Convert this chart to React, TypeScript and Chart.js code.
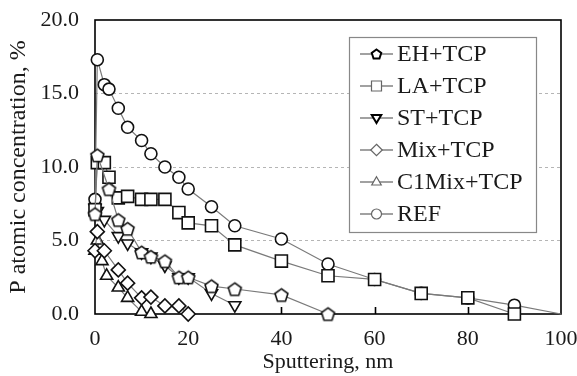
import React, { useEffect, useRef } from 'react';
import { Chart, registerables } from 'chart.js';

Chart.register(...registerables);

// ---- data ----
const seriesNames = ['EH+TCP', 'LA+TCP', 'ST+TCP', 'Mix+TCP', 'C1Mix+TCP', 'REF'];

const ehX = [0, 0.5, 3, 5, 7, 10, 12, 15, 18, 20, 25, 30, 40, 50];
const ehY = [6.8, 10.8, 8.5, 6.4, 5.8, 4.2, 3.9, 3.6, 2.5, 2.5, 1.9, 1.7, 1.3, 0];

const laX = [0, 0.5, 2, 3, 5, 7, 10, 12, 15, 18, 20, 25, 30, 40, 50, 60, 70, 80, 90];
const laY = [7.1, 10.3, 10.3, 9.3, 7.9, 8.0, 7.8, 7.8, 7.8, 6.9, 6.2, 6.0, 4.7, 3.6, 2.6, 2.35, 1.4, 1.1, 0];

const stX = [0, 0.5, 2, 5, 7, 10, 12, 15, 18, 20, 25, 30];
const stY = [7.2, 7.0, 6.4, 5.3, 4.8, 4.2, 3.9, 3.3, 2.5, 2.5, 1.4, 0.6];

const mixX = [0, 0.5, 2, 5, 7, 10, 12, 15, 18, 20];
const mixY = [4.3, 5.6, 4.3, 3.0, 2.1, 1.1, 1.15, 0.55, 0.55, 0];

const c1X = [0, 0.5, 1.5, 2.5, 5, 7, 10, 12];
const c1Y = [4.3, 5.0, 3.6, 2.6, 1.8, 1.1, 0.15, 0];

const refX = [0, 0.5, 2, 3, 5, 7, 10, 12, 15, 18, 20, 25, 30, 40, 50, 60, 70, 80, 90, 100];
const refY = [7.8, 17.3, 15.6, 15.3, 14.0, 12.7, 11.8, 10.9, 10.0, 9.3, 8.5, 7.3, 6.0, 5.1, 3.4, 2.35, 1.4, 1.1, 0.6, 0];

const xTickValues = [0, 20, 40, 60, 80, 100];
const yTickValues = [0, 5, 10, 15, 20];

const xTitle = 'Sputtering, nm';
const yTitle = 'P atomic concentration, %';

// ---- styling helpers ----
const FONT = "'Liberation Serif', 'Times New Roman', serif";
const FONT_SIZE = 22;
const BIG_FONT_SIZE = 24;
const LINE_COLOR = '#7a7a7a';
const MARK_COLOR = '#111111';

function pentagonPath(ctx: CanvasRenderingContext2D, cx: number, cy: number, r: number) {
  ctx.beginPath();
  for (let i = 0; i < 5; i++) {
    const a = -Math.PI / 2 + (i * 2 * Math.PI) / 5;
    const px = cx + r * Math.cos(a);
    const py = cy + r * Math.sin(a) + r * 0.1;
    if (i === 0) ctx.moveTo(px, py);
    else ctx.lineTo(px, py);
  }
  ctx.closePath();
}

function makePentagon(r: number, lw: number, color: string) {
  const size = Math.ceil(2 * r + lw * 2 + 4);
  const c = document.createElement('canvas');
  c.width = size;
  c.height = size;
  const ctx = c.getContext('2d')!;
  pentagonPath(ctx, size / 2, size / 2, r);
  ctx.fillStyle = '#ffffff';
  ctx.fill();
  ctx.lineWidth = lw;
  ctx.strokeStyle = color;
  ctx.stroke();
  return c;
}

function legendMarker(ctx: CanvasRenderingContext2D, kind: string, x: number, y: number, r: number) {
  ctx.beginPath();
  if (kind === 'circle') {
    ctx.arc(x, y, r, 0, Math.PI * 2);
  } else if (kind === 'rect') {
    ctx.rect(x - r, y - r, 2 * r, 2 * r);
  } else if (kind === 'tri') {
    ctx.moveTo(x, y - r * 1.05);
    ctx.lineTo(x + r * 0.95, y + r * 0.6);
    ctx.lineTo(x - r * 0.95, y + r * 0.6);
    ctx.closePath();
  } else if (kind === 'triDown') {
    ctx.moveTo(x, y + r * 1.0);
    ctx.lineTo(x + r * 0.95, y - r * 0.6);
    ctx.lineTo(x - r * 0.95, y - r * 0.6);
    ctx.closePath();
  } else if (kind === 'diamond') {
    ctx.moveTo(x, y - r * 1.15);
    ctx.lineTo(x + r * 1.15, y);
    ctx.lineTo(x, y + r * 1.15);
    ctx.lineTo(x - r * 1.15, y);
    ctx.closePath();
  } else if (kind === 'pentagon') {
    pentagonPath(ctx, x, y, r);
  }
  ctx.fillStyle = '#fff';
  ctx.fill();
  ctx.stroke();
}

const legendKinds = ['pentagon', 'rect', 'triDown', 'diamond', 'tri', 'circle'];
const legendBold = [true, false, true, false, false, false];

const framePlugin = {
  id: 'frameAndLegend',
  beforeDatasetsDraw(chart: any) {
    const { ctx, chartArea: a, scales } = chart;
    ctx.save();
    ctx.strokeStyle = '#000';
    ctx.lineWidth = 1.6;
    ctx.beginPath();
    for (const v of xTickValues) {
      if (v === 0 || v === 100) continue;
      const px = Math.round(scales.x.getPixelForValue(v)) + 0.5;
      ctx.moveTo(px, a.bottom);
      ctx.lineTo(px, a.bottom - 7);
    }
    ctx.stroke();
    ctx.strokeRect(a.left, a.top, a.right - a.left, a.bottom - a.top);
    ctx.restore();
  },
  afterDraw(chart: any) {
    const { ctx } = chart;
    const bx = 349, by = 37, bw = 187, bh = 195;
    ctx.save();
    ctx.fillStyle = '#ffffff';
    ctx.fillRect(bx, by, bw, bh);
    ctx.strokeStyle = '#888888';
    ctx.lineWidth = 1.2;
    ctx.strokeRect(bx + 0.5, by + 0.5, bw, bh);
    const rowH = 32;
    const y0 = 54;
    chart.data.datasets.forEach((ds: any, i: number) => {
      const y = y0 + i * rowH;
      ctx.strokeStyle = '#444';
      ctx.lineWidth = 1.2;
      ctx.beginPath();
      ctx.moveTo(360, y);
      ctx.lineTo(393, y);
      ctx.stroke();
      ctx.strokeStyle = legendBold[i] ? '#000' : '#666';
      ctx.lineWidth = legendBold[i] ? 2 : 1.2;
      legendMarker(ctx, legendKinds[i], 376.5, y, 5);
      ctx.fillStyle = '#1a1a1a';
      ctx.font = `${BIG_FONT_SIZE}px ${FONT}`;
      ctx.textBaseline = 'middle';
      ctx.textAlign = 'left';
      ctx.fillText(ds.label, 397, y + 1);
    });
    ctx.restore();
  },
};

function toPoints(xs: number[], ys: number[]) {
  return xs.map((x, i) => ({ x, y: ys[i] }));
}

export default function App() {
  const canvasRef = useRef<HTMLCanvasElement | null>(null);

  useEffect(() => {
    const canvas = canvasRef.current;
    if (!canvas) return;
    const pent = makePentagon(6.8, 1.6, MARK_COLOR);

    const base = {
      borderColor: LINE_COLOR,
      borderWidth: 1.2,
      pointBorderColor: MARK_COLOR,
      pointBackgroundColor: '#ffffff',
      pointBorderWidth: 1.6,
      clip: false as any,
      tension: 0,
    };

    const chart = new Chart(canvas, {
      type: 'line',
      data: {
        datasets: [
          { ...base, label: seriesNames[0], data: toPoints(ehX, ehY), pointStyle: pent as any, pointRadius: 7 },
          { ...base, label: seriesNames[1], data: toPoints(laX, laY), pointStyle: 'rect', pointRadius: 8.5 },
          { ...base, label: seriesNames[2], data: toPoints(stX, stY), pointStyle: 'triangle', pointRotation: 180, pointRadius: 7 },
          { ...base, label: seriesNames[3], data: toPoints(mixX, mixY), pointStyle: 'rectRot', pointRadius: 7 },
          { ...base, label: seriesNames[4], data: toPoints(c1X, c1Y), pointStyle: 'triangle', pointRadius: 7 },
          {
            ...base,
            label: seriesNames[5],
            data: toPoints(refX, refY),
            pointStyle: 'circle',
            pointRadius: (c: any) => (c.raw && c.raw.x >= 100 ? 0 : 6),
          },
        ],
      },
      options: {
        animation: false,
        responsive: true,
        maintainAspectRatio: false,
        layout: { padding: { top: 20, right: 16, left: 0, bottom: 0 } },
        plugins: {
          legend: { display: false },
          tooltip: { enabled: false },
        },
        scales: {
          x: {
            type: 'linear',
            min: 0,
            max: 100,
            afterBuildTicks: (s: any) => {
              s.ticks = xTickValues.map((v) => ({ value: v }));
            },
            ticks: {
              color: '#1a1a1a',
              font: { family: FONT, size: FONT_SIZE },
              padding: 12,
              maxRotation: 0,
              callback: (v: any) => String(v),
            },
            grid: { display: false, drawTicks: false },
            border: { display: false },
            title: {
              display: true,
              text: xTitle,
              color: '#1a1a1a',
              font: { family: FONT, size: FONT_SIZE },
              padding: { top: 0, bottom: 1 },
            },
            afterFit: (s: any) => {
              s.height = 62;
              s.paddingLeft = 0;
              s.paddingRight = 0;
            },
          },
          y: {
            type: 'linear',
            min: 0,
            max: 20,
            afterBuildTicks: (s: any) => {
              s.ticks = yTickValues.map((v) => ({ value: v }));
            },
            ticks: {
              color: '#1a1a1a',
              font: { family: FONT, size: FONT_SIZE },
              padding: 16,
              callback: (v: any) => Number(v).toFixed(1),
            },
            grid: {
              drawTicks: false,
              lineWidth: 1,
              color: (c: any) => (c.tick && (c.tick.value === 0 || c.tick.value === 20) ? 'rgba(0,0,0,0)' : '#b5b5b5'),
            },
            border: { display: false, dash: [3, 3] },
            title: {
              display: true,
              text: yTitle,
              color: '#1a1a1a',
              font: { family: FONT, size: BIG_FONT_SIZE },
              padding: { top: 4, bottom: 0 },
            },
            afterFit: (s: any) => {
              s.width = 95;
              s.paddingTop = 0;
              s.paddingBottom = 0;
            },
          },
        },
      },
      plugins: [framePlugin],
    });

    return () => {
      chart.destroy();
    };
  }, []);

  return (
    <div style={{ position: 'fixed', left: 0, top: 0, width: 577, height: 376, background: '#ffffff' }}>
      <canvas ref={canvasRef} />
    </div>
  );
}
